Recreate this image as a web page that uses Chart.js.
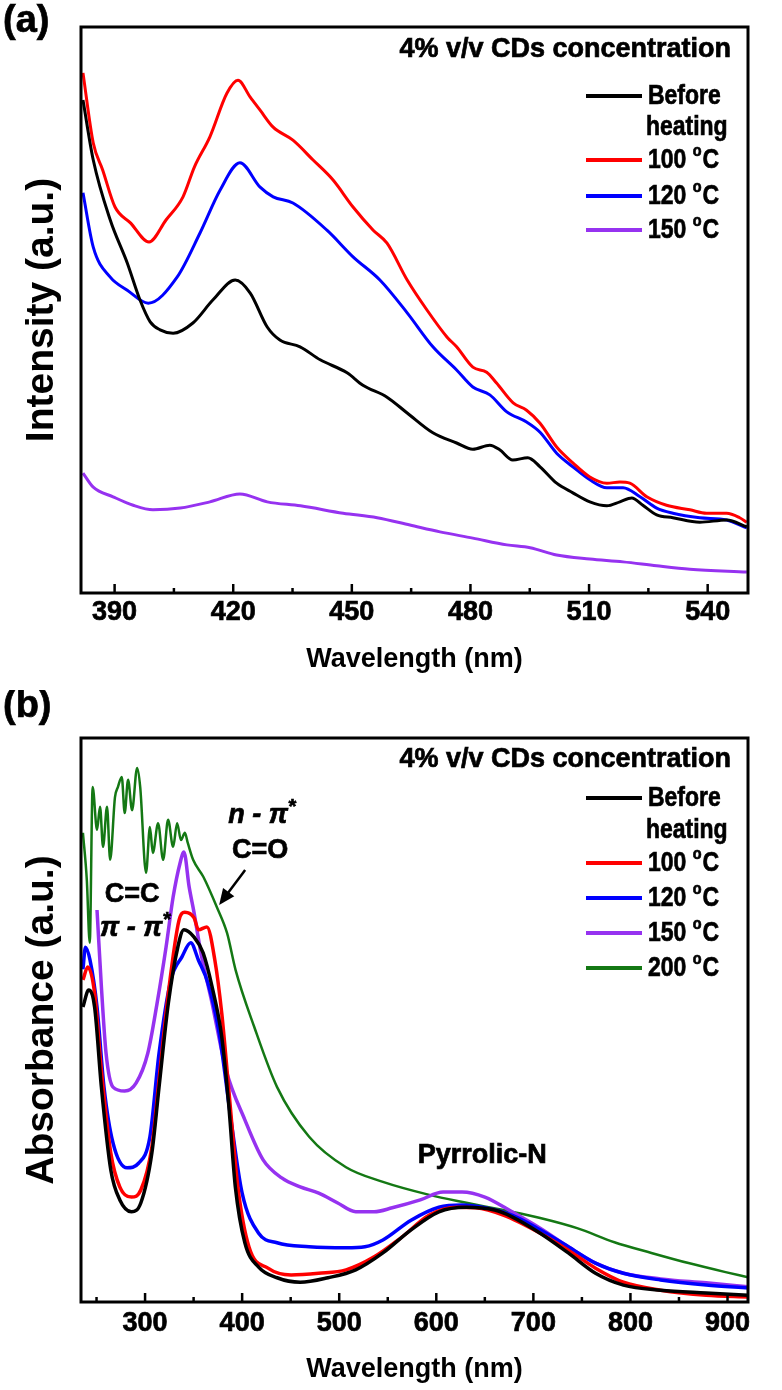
<!DOCTYPE html>
<html>
<head>
<meta charset="utf-8">
<script src="https://cdn.jsdelivr.net/npm/chart.js@4.4.1/dist/chart.umd.min.js"></script>
<style>
  html, body { margin: 0; padding: 0; background: #fff; }
  #wrap { position: relative; width: 782px; height: 1390px; background: #fff; }
  canvas { position: absolute; left: 0; }
</style>
</head>
<body>
<div id="wrap">
  <canvas id="panelA" width="782" height="690" style="top:0"></canvas>
  <canvas id="panelB" width="782" height="700" style="top:690px"></canvas>
</div>
<script>
// ---------- panel (a): PL intensity vs wavelength ----------
const aTicks = [390, 405, 420, 435, 450, 465, 480, 495, 510, 525, 540];
const aTickLabels = [390, 420, 450, 480, 510, 540];
const aNames = ["Before heating", "100 °C", "120 °C", "150 °C"];

const aBeforeWl = [382, 384.6, 388.9, 393.2, 396.4, 399, 401.5, 404.8, 409.8, 414.9, 420.5, 424.3, 428.6, 431.8, 436.9, 442, 448.8, 452.8, 458.9, 464, 470.5, 476.5, 480.6, 484.9, 487.4, 490.7, 494.5, 497.6, 501.8, 505.9, 510.2, 514.5, 517.8, 520.8, 523.6, 527.1, 531.2, 538, 544.8, 549.9];
const aBefore = [87.1, 76.5, 65.9, 58.3, 51.8, 47.9, 46.5, 45.9, 47.7, 51.8, 55.3, 53.0, 47.0, 44.7, 43.5, 41.2, 38.9, 36.7, 34.6, 31.8, 28.3, 26.5, 25.4, 26.1, 25.3, 23.5, 23.9, 22.3, 19.4, 17.7, 16.1, 15.4, 16.1, 16.8, 15.5, 13.8, 13.3, 12.5, 12.9, 11.7];

const a100Wl = [382, 384.6, 387, 390.1, 394, 398.7, 403, 407.3, 410.2, 414.1, 418.4, 421.2, 424.3, 426.8, 430.1, 435.1, 440.2, 445.2, 450.3, 455.4, 458.9, 464, 469, 474.1, 476.5, 480.6, 484.1, 486.6, 490.8, 494.2, 497.6, 501.8, 505.9, 510.2, 514.5, 517.8, 520.3, 524.6, 529.6, 535.5, 539.7, 544.8, 548.1, 549.9];
const a100 = [91.9, 79.5, 74.7, 68.2, 65.4, 62.0, 65.9, 70.0, 75.3, 80.6, 88.3, 90.6, 87.6, 85.3, 82.3, 80.0, 76.5, 73.0, 68.2, 64.1, 61.8, 55.3, 50.0, 45.2, 43.5, 39.9, 39.0, 37.1, 33.6, 32.3, 30.0, 25.8, 23.0, 20.5, 19.4, 19.6, 19.4, 17.0, 15.5, 14.7, 14.1, 14.1, 13.3, 12.5];

const a120Wl = [382, 384.6, 388.9, 393.2, 398.5, 405.8, 411.6, 416.7, 421.7, 426.8, 430.1, 435.1, 443.7, 450.3, 457.1, 464, 470.5, 476.5, 480.6, 484.9, 489.2, 494.2, 497.6, 501.8, 505.9, 510.2, 514.5, 518.6, 522.9, 527.1, 531.2, 538, 544.8, 549.9];
const a120 = [70.7, 61.1, 55.8, 53.5, 51.2, 55.8, 63.6, 71.2, 76.0, 71.7, 70.0, 68.9, 64.1, 59.4, 55.3, 49.5, 43.5, 39.4, 36.4, 35.0, 32.0, 30.2, 28.4, 24.7, 22.3, 20.0, 18.6, 18.6, 17.0, 15.0, 14.1, 13.3, 12.9, 11.5];

const a150Wl = [382, 384.6, 389.6, 394.7, 399.7, 406.6, 414.1, 421.7, 428.6, 437, 447.8, 456.4, 464.7, 472.3, 480.6, 489.2, 495.1, 501.8, 510.2, 518.6, 527.1, 535.5, 549.9];
const a150 = [21.2, 18.7, 17.0, 15.5, 14.7, 15.0, 16.1, 17.5, 16.1, 15.4, 14.1, 13.3, 12.0, 10.8, 9.7, 8.5, 8.0, 6.7, 6.0, 5.5, 4.8, 4.2, 3.7];

// ---------- panel (b): absorbance vs wavelength ----------
const bTicks = [250, 300, 350, 400, 450, 500, 550, 600, 650, 700, 750, 800, 850, 900];
const bTickLabels = [300, 400, 500, 600, 700, 800, 900];
const bNames = ["Before heating", "100 °C", "120 °C", "150 °C", "200 °C"];

const bBeforeWl = [236, 241.9, 248, 255, 264.7, 274, 286, 295.7, 307, 314.4, 324, 333.7, 340, 350.5, 359.8, 369, 379, 386, 393, 402.8, 417, 436, 459.8, 488.5, 517, 545, 574, 602.7, 631, 660, 678, 707, 736, 764, 792.8, 831, 878, 921];
const bBefore = [52.3, 55.3, 52.3, 38.1, 23.4, 18.1, 16.0, 17.6, 26.4, 38.1, 53.0, 62.9, 66.0, 64.7, 61.9, 55.9, 47.0, 35.3, 20.4, 10.5, 6.2, 4.3, 3.5, 4.3, 5.7, 8.7, 12.8, 16.0, 16.8, 16.3, 15.1, 12.2, 8.7, 5.1, 3.0, 2.1, 1.6, 1.2];

const b100Wl = [236, 241, 248, 255, 264.7, 274, 286, 295.7, 307, 314.4, 324, 335, 340.8, 350.5, 355, 363.7, 371.9, 379, 386, 395.6, 407, 426.6, 450.5, 478.9, 507, 536, 564.5, 592.8, 621.6, 640.7, 669, 707, 736, 764, 792.8, 831, 878, 921];
const b100 = [57.1, 59.4, 54.8, 41.1, 26.4, 20.4, 18.6, 19.9, 27.5, 39.4, 54.8, 67.7, 69.1, 68.1, 66.0, 66.5, 60.6, 51.2, 38.1, 20.4, 9.8, 6.0, 4.8, 5.1, 5.7, 8.0, 11.5, 15.4, 16.8, 16.7, 15.4, 12.2, 9.2, 6.0, 3.5, 2.1, 1.2, 0.9];

const b120Wl = [236, 238.6, 243.3, 250.5, 257.7, 267, 281.4, 293.3, 305, 314.4, 326.6, 338, 347, 355, 364.6, 376.3, 388.5, 400, 417, 436, 469, 507, 526.5, 545, 574, 602.7, 626.5, 650, 678, 707, 736, 764, 792.8, 831, 878, 921];
const b120 = [59.0, 62.9, 60.6, 52.3, 38.1, 28.2, 23.8, 24.6, 29.3, 44.1, 57.1, 61.2, 63.7, 60.6, 56.6, 47.7, 32.3, 19.3, 12.2, 10.5, 9.8, 9.6, 9.8, 11.0, 14.5, 16.8, 17.2, 16.7, 15.4, 12.8, 9.8, 6.9, 5.1, 3.9, 3.0, 2.5];

const b150Wl = [250.5, 255, 259.8, 267, 279, 290.7, 302.8, 312.4, 321.6, 328.9, 336, 340, 345.4, 350.5, 357.5, 369, 383.5, 402.8, 421.6, 440.8, 459.8, 478.9, 498, 517, 536, 554.6, 583.5, 607, 626.5, 650, 678, 707, 736, 764, 792.8, 831, 878, 921];
const b150 = [69.5, 55.9, 44.1, 38.1, 37.4, 38.8, 44.1, 53.0, 62.9, 71.8, 77.8, 79.8, 73.6, 69.0, 61.9, 53.0, 41.1, 32.3, 25.2, 22.0, 20.4, 19.3, 17.6, 16.0, 16.0, 16.7, 18.1, 19.5, 19.5, 18.6, 16.0, 13.1, 9.8, 6.9, 5.1, 4.1, 3.4, 2.7];

const b200Wl = [236, 240, 243, 246, 250.5, 253.6, 256.7, 260.8, 264, 269, 272, 276, 279, 282.5, 286.6, 291.8, 295, 301, 305, 308, 313.4, 318.6, 323.7, 328.9, 333, 337, 341, 344, 349.5, 360, 374, 384.5, 393.2, 412.4, 436, 469, 507, 545, 592.8, 631, 669, 707, 745, 783.5, 821.6, 859.8, 898, 921];
const b200 = [83.2, 74.8, 63.7, 91.3, 83.7, 87.8, 80.7, 87.8, 78.4, 89.5, 91.3, 93.1, 86.7, 92.6, 87.2, 94.7, 91.3, 76.1, 84.2, 79.6, 84.9, 78.4, 85.5, 80.7, 84.9, 81.9, 83.2, 81.4, 78.4, 75.4, 70.0, 65.4, 58.9, 48.8, 38.1, 29.3, 23.9, 21.3, 19.0, 17.6, 16.3, 14.9, 13.1, 10.6, 8.7, 6.9, 5.3, 4.4];

const colors = ["#000000", "#ff0000", "#0000ff", "#9632f0", "#147814"];
const FONT = '"Liberation Sans", Arial, Helvetica, sans-serif';

const pts = (xs, ys) => xs.map((x, i) => ({ x: x, y: ys[i] }));

function label(ctx, s, x, y, size, o) {
  o = o || {};
  ctx.save();
  ctx.font = (o.italic ? "italic " : "") + "bold " + size + "px " + FONT;
  ctx.fillStyle = "#000";
  ctx.strokeStyle = "#000";
  ctx.lineWidth = 0.7;
  ctx.textAlign = o.align || "left";
  ctx.textBaseline = "middle";
  ctx.translate(x, y);
  ctx.scale(o.sx || 1, 1);
  ctx.fillText(s, 0, 0);
  ctx.strokeText(s, 0, 0);
  const w = ctx.measureText(s).width * (o.sx || 1);
  ctx.restore();
  return w;
}

function degreeLabel(ctx, name, x, y) {
  const num = name.replace(" °C", "");
  let w = label(ctx, num + " ", x, y, 28, { sx: 0.82 });
  w += label(ctx, "o", x + w, y - 8, 16, { sx: 0.9 });
  label(ctx, "C", x + w + 1, y, 28, { sx: 0.82 });
}

// legend drawn from the dataset colours
function drawLegend(chart, names, rowsY, heatingY) {
  const ctx = chart.ctx;
  names.forEach((n, i) => {
    const y = rowsY[i];
    ctx.save();
    ctx.strokeStyle = chart.data.datasets[i].borderColor;
    ctx.lineWidth = 4;
    ctx.beginPath();
    ctx.moveTo(586, y);
    ctx.lineTo(642, y);
    ctx.stroke();
    ctx.restore();
    if (n.indexOf("°C") > 0) {
      degreeLabel(ctx, n, 648, y);
    } else {
      const parts = n.split(" ");
      label(ctx, parts[0], 648, y, 28, { sx: 0.82 });
      label(ctx, parts[1], 646, heatingY, 28, { sx: 0.82 });
    }
  });
}

// box round the plot and inward ticks on the x axis
const frameTicks = {
  id: "frameTicks",
  afterDatasetsDraw(chart) {
    const { ctx, chartArea: a } = chart;
    const x = chart.scales.x;
    ctx.save();
    ctx.strokeStyle = "#000";
    ctx.lineWidth = 2.5;
    x.ticks.forEach(t => {
      const px = x.getPixelForValue(t.value);
      const len = t.label ? 9 : 5;
      ctx.beginPath();
      ctx.moveTo(px, a.bottom);
      ctx.lineTo(px, a.bottom - len);
      ctx.stroke();
    });
    ctx.lineWidth = 3;
    ctx.strokeRect(a.left, a.top, a.right - a.left, a.bottom - a.top);
    ctx.restore();
  }
};

function makeOptions(xMin, xMax, ticks, tickLabels, yTitle, tickPad, titlePad, xAxisHeight, topPad) {
  return {
    responsive: false,
    devicePixelRatio: 1,
    animation: false,
    layout: { padding: { left: 0, right: 34, top: topPad, bottom: 0 } },
    plugins: { legend: { display: false }, tooltip: { enabled: false } },
    elements: { point: { radius: 0 } },
    scales: {
      x: {
        type: "linear",
        min: xMin,
        max: xMax,
        grid: { display: false, drawTicks: false },
        border: { display: false },
        afterBuildTicks: s => { s.ticks = ticks.map(v => ({ value: v })); },
        afterFit: s => { s.height = xAxisHeight; },
        ticks: {
          autoSkip: false,
          maxRotation: 0,
          padding: tickPad,
          color: "#000",
          textStrokeColor: "#000",
          textStrokeWidth: 0.7,
          font: { family: FONT, size: 27, weight: "bold" },
          callback: v => tickLabels.includes(v) ? String(v) : ""
        },
        title: {
          display: true,
          text: "Wavelength (nm)",
          color: "#000",
          font: { family: FONT, size: 27, weight: "bold" },
          padding: { top: 0, bottom: titlePad }
        }
      },
      y: {
        min: 0,
        max: 100,
        grid: { display: false, drawTicks: false },
        border: { display: false },
        ticks: { display: false },
        afterFit: s => { s.width = 81; },
        title: {
          display: true,
          text: yTitle,
          color: "#000",
          font: { family: FONT, size: 39, weight: "bold" },
          padding: { top: 19, bottom: 0 }
        }
      }
    }
  };
}

// ---------- chart (a) ----------
const aData = [[aBeforeWl, aBefore], [a100Wl, a100], [a120Wl, a120], [a150Wl, a150]];
new Chart(document.getElementById("panelA"), {
  type: "line",
  data: {
    datasets: aData.map((d, i) => ({
      label: aNames[i],
      data: pts(d[0], d[1]),
      borderColor: colors[i],
      borderWidth: 3,
      cubicInterpolationMode: "monotone"
    }))
  },
  options: makeOptions(381.5, 550.2, aTicks, aTickLabels, "Intensity (a.u.)", 3, 14, 97, 27),
  plugins: [frameTicks, {
    id: "textA",
    afterDraw(chart) {
      const ctx = chart.ctx;
      label(ctx, "(a)", 3, 22, 38);
      label(ctx, "4% v/v CDs concentration", 731, 50, 27, { align: "right" });
      drawLegend(chart, aNames, [96, 160, 196, 230], 127);
    }
  }]
});

// ---------- chart (b) ----------
const bData = [[bBeforeWl, bBefore], [b100Wl, b100], [b120Wl, b120], [b150Wl, b150], [b200Wl, b200]];
new Chart(document.getElementById("panelB"), {
  type: "line",
  data: {
    datasets: bData.map((d, i) => ({
      label: bNames[i],
      data: pts(d[0], d[1]),
      borderColor: colors[i],
      borderWidth: i === 4 ? 2.5 : 3.5,
      cubicInterpolationMode: "monotone"
    }))
  },
  options: makeOptions(234, 921.1, bTicks, bTickLabels, "Absorbance (a.u.)", 5, 4, 88, 48),
  plugins: [frameTicks, {
    id: "textB",
    afterDraw(chart) {
      const ctx = chart.ctx;
      const x = chart.scales.x, y = chart.scales.y;
      label(ctx, "(b)", 3, 17, 38);
      label(ctx, "4% v/v CDs concentration", 731, 70, 27, { align: "right" });
      drawLegend(chart, bNames, [108, 173, 208, 243, 278], 140);

      // peak annotations, placed in data coordinates
      let px = x.getPixelForValue(385.6), py = y.getPixelForValue(86.2);
      let w = label(ctx, "n - π", px, py, 27, { italic: true });
      label(ctx, "*", px + w, py - 8, 20, { italic: true });
      label(ctx, "C=O", x.getPixelForValue(418.6), y.getPixelForValue(80.1), 27, { align: "center" });
      label(ctx, "C=C", x.getPixelForValue(286.6), y.getPixelForValue(72.3), 27, { align: "center" });
      px = x.getPixelForValue(253.6); py = y.getPixelForValue(66.3);
      w = label(ctx, "π - π", px, py, 27, { italic: true });
      label(ctx, "*", px + w, py - 8, 20, { italic: true });
      label(ctx, "Pyrrolic-N", x.getPixelForValue(647.4), y.getPixelForValue(25.9), 27, { align: "center" });

      // arrow pointing at the n - pi* shoulder
      const x0 = x.getPixelForValue(403.1), y0 = y.getPixelForValue(76.6);
      const x1 = x.getPixelForValue(376.3), y1 = y.getPixelForValue(70.4);
      const ang = Math.atan2(y1 - y0, x1 - x0);
      ctx.save();
      ctx.strokeStyle = "#000";
      ctx.fillStyle = "#000";
      ctx.lineWidth = 2.5;
      ctx.beginPath();
      ctx.moveTo(x0, y0);
      ctx.lineTo(x1 - 12 * Math.cos(ang), y1 - 12 * Math.sin(ang));
      ctx.stroke();
      ctx.beginPath();
      ctx.moveTo(x1, y1);
      ctx.lineTo(x1 - 16 * Math.cos(ang) + 7 * Math.sin(ang), y1 - 16 * Math.sin(ang) - 7 * Math.cos(ang));
      ctx.lineTo(x1 - 16 * Math.cos(ang) - 7 * Math.sin(ang), y1 - 16 * Math.sin(ang) + 7 * Math.cos(ang));
      ctx.closePath();
      ctx.fill();
      ctx.restore();
    }
  }]
});
</script>
</body>
</html>
